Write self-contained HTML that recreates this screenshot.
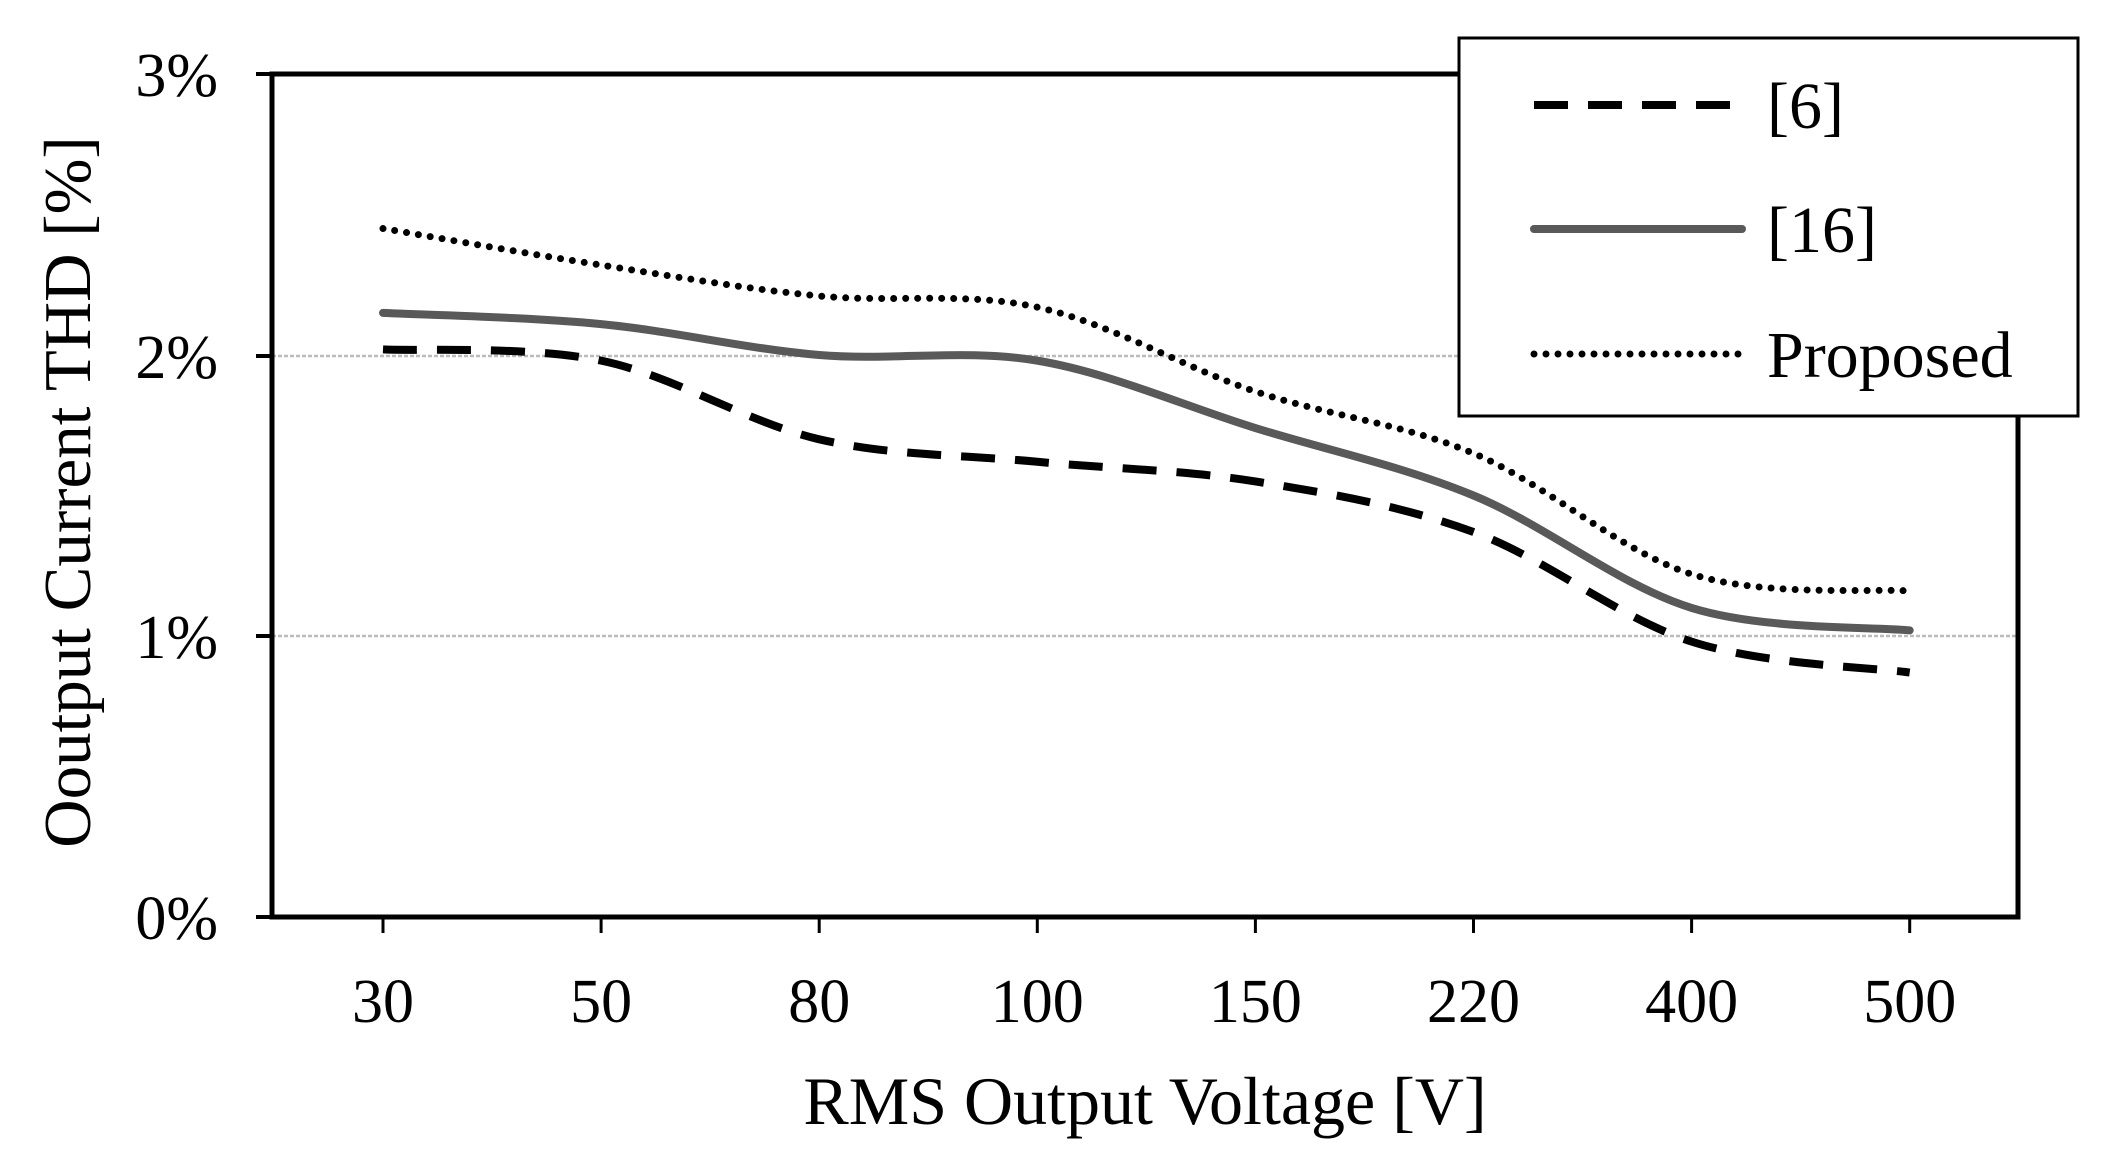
<!DOCTYPE html>
<html><head><style>
html,body{margin:0;padding:0;background:#fff;}
svg{display:block;}
text{font-family:"Liberation Serif",serif;fill:#000;}
</style></head><body>
<svg id="s" width="2112" height="1166" viewBox="0 0 2112 1166" xmlns="http://www.w3.org/2000/svg">
<rect width="2112" height="1166" fill="#fff"/>
<line x1="272" y1="356" x2="2018" y2="356" stroke="#bbb" stroke-width="2.5" stroke-dasharray="4,2"/>
<line x1="272" y1="636" x2="2018" y2="636" stroke="#bbb" stroke-width="2.5" stroke-dasharray="4,2"/>
<rect x="272" y="74" width="1746" height="843" fill="none" stroke="#000" stroke-width="5"/>
<g stroke="#000" stroke-width="4">
<line x1="256" y1="74" x2="272" y2="74"/><line x1="256" y1="356" x2="272" y2="356"/>
<line x1="256" y1="636" x2="272" y2="636"/><line x1="256" y1="917" x2="272" y2="917"/>
</g>
<g id="xt" stroke="#000" stroke-width="3"></g>
<g font-size="62" text-anchor="end">
<text x="218" y="96">3%</text><text x="218" y="378">2%</text>
<text x="218" y="658">1%</text><text x="218" y="939">0%</text>
</g>
<g id="xl" font-size="62" text-anchor="middle"></g>
<text x="1145" y="1124" font-size="68" text-anchor="middle">RMS Output Voltage [V]</text>
<text transform="translate(90,492) rotate(-90)" font-size="67" text-anchor="middle">Ooutput Current THD [%]</text>
<path id="p1" fill="none" stroke="#000" stroke-width="8" stroke-dasharray="34,20"/>
<path id="p2" fill="none" stroke="#595959" stroke-width="8" stroke-linecap="round"/>
<path id="p3" fill="none" stroke="#000" stroke-width="7" stroke-dasharray="0,12" stroke-linecap="round"/>
<rect x="1459" y="38" width="619" height="378" fill="#fff" stroke="#000" stroke-width="3"/>
<line x1="1534" y1="105" x2="1742" y2="105" stroke="#000" stroke-width="8" stroke-dasharray="34,20"/>
<line x1="1534" y1="229" x2="1742" y2="229" stroke="#595959" stroke-width="8" stroke-linecap="round"/>
<line x1="1534" y1="354" x2="1742" y2="354" stroke="#000" stroke-width="7" stroke-dasharray="0,12" stroke-linecap="round"/>
<g font-size="66"><text x="1767" y="128">[6]</text><text x="1767" y="252">[16]</text><text x="1767" y="377">Proposed</text></g>
</svg>
<script>
var X=function(i){return 383+218.1*i;},Y=function(v){return 917-281*v;};
var labs=["30","50","80","100","150","220","400","500"];
var xt=document.getElementById('xt'),xl=document.getElementById('xl');
labs.forEach(function(l,i){
 var x=X(i);
 xt.innerHTML+='<line x1="'+x+'" y1="917" x2="'+x+'" y2="933"/>';
 xl.innerHTML+='<text x="'+x+'" y="1022">'+l+'</text>';
});
function path(d){
 var p=d.map(function(v,i){return [X(i),Y(v)];});
 var s='M'+p[0][0]+','+p[0][1];
 for(var i=0;i<p.length-1;i++){
  var p0=p[i-1]||p[i],p1=p[i],p2=p[i+1],p3=p[i+2]||p[i+1];
  var c1=[p1[0]+(p2[0]-p0[0])/6,p1[1]+(p2[1]-p0[1])/6];
  var c2=[p2[0]-(p3[0]-p1[0])/6,p2[1]-(p3[1]-p1[1])/6];
  s+=' C'+c1+' '+c2+' '+p2;
 }
 return s;
}
document.getElementById('p1').setAttribute('d',path([2.02,1.98,1.70,1.62,1.55,1.37,0.98,0.87]));
document.getElementById('p2').setAttribute('d',path([2.15,2.11,2.00,1.98,1.74,1.50,1.10,1.02]));
document.getElementById('p3').setAttribute('d',path([2.45,2.32,2.21,2.17,1.87,1.65,1.22,1.16]));
</script>
</body></html>
